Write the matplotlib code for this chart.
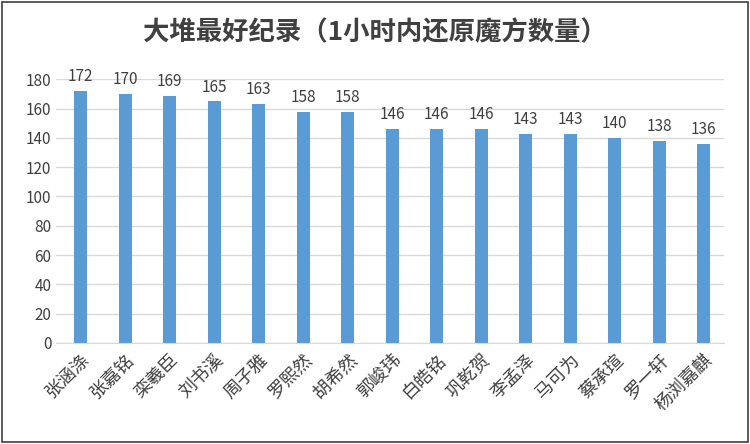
import matplotlib.pyplot as plt
from matplotlib.patches import Rectangle

plt.rcParams["font.family"] = ["Noto Sans CJK SC", "DejaVu Sans"]

names = ["张涵涤", "张嘉铭", "栾羲臣", "刘书溪", "周子雅", "罗熙然", "胡希然", "郭峻玮",
         "白皓铭", "巩乾贺", "李孟泽", "马可为", "蔡承瑄", "罗一轩", "杨浏嘉麒"]
counts = [172, 170, 169, 165, 163, 158, 158, 146, 146, 146, 143, 143, 140, 138, 136]

fig = plt.figure(figsize=(7.5, 4.44), dpi=100)
ax = fig.add_axes([0.075, 0.228, 0.89, 0.593])
fig.patches.append(Rectangle((0.003, 0.005), 0.994, 0.99, transform=fig.transFigure,
                             fill=False, edgecolor="#404040", linewidth=1.2))

x = range(len(names))
ax.bar(x, counts, width=0.3, color="#5B9BD5")
for xi, v in zip(x, counts):
    ax.text(xi, v + 4, str(v), ha="center", va="bottom", fontsize=11, color="#404040")

ax.set_xlim(-0.55, len(names) - 0.55)
ax.set_ylim(0, 180)
ax.set_yticks(range(0, 181, 20))
ax.yaxis.grid(True, color="#D9D9D9", linewidth=1)
ax.set_axisbelow(True)
for s in ["top", "right", "left"]:
    ax.spines[s].set_visible(False)
ax.spines["bottom"].set_color("#D9D9D9")
ax.tick_params(axis="both", length=0, labelsize=11, colors="#404040")
ax.tick_params(axis="x", pad=6)
ax.set_xticks(list(x))
ax.set_xticklabels(names, rotation=45, ha="right", rotation_mode="anchor", fontsize=13)

fig.text(0.5, 0.925, "大堆最好纪录（1小时内还原魔方数量）", ha="center", va="center",
         fontsize=19, fontweight="bold", color="#404040")

fig.savefig("out.png")
